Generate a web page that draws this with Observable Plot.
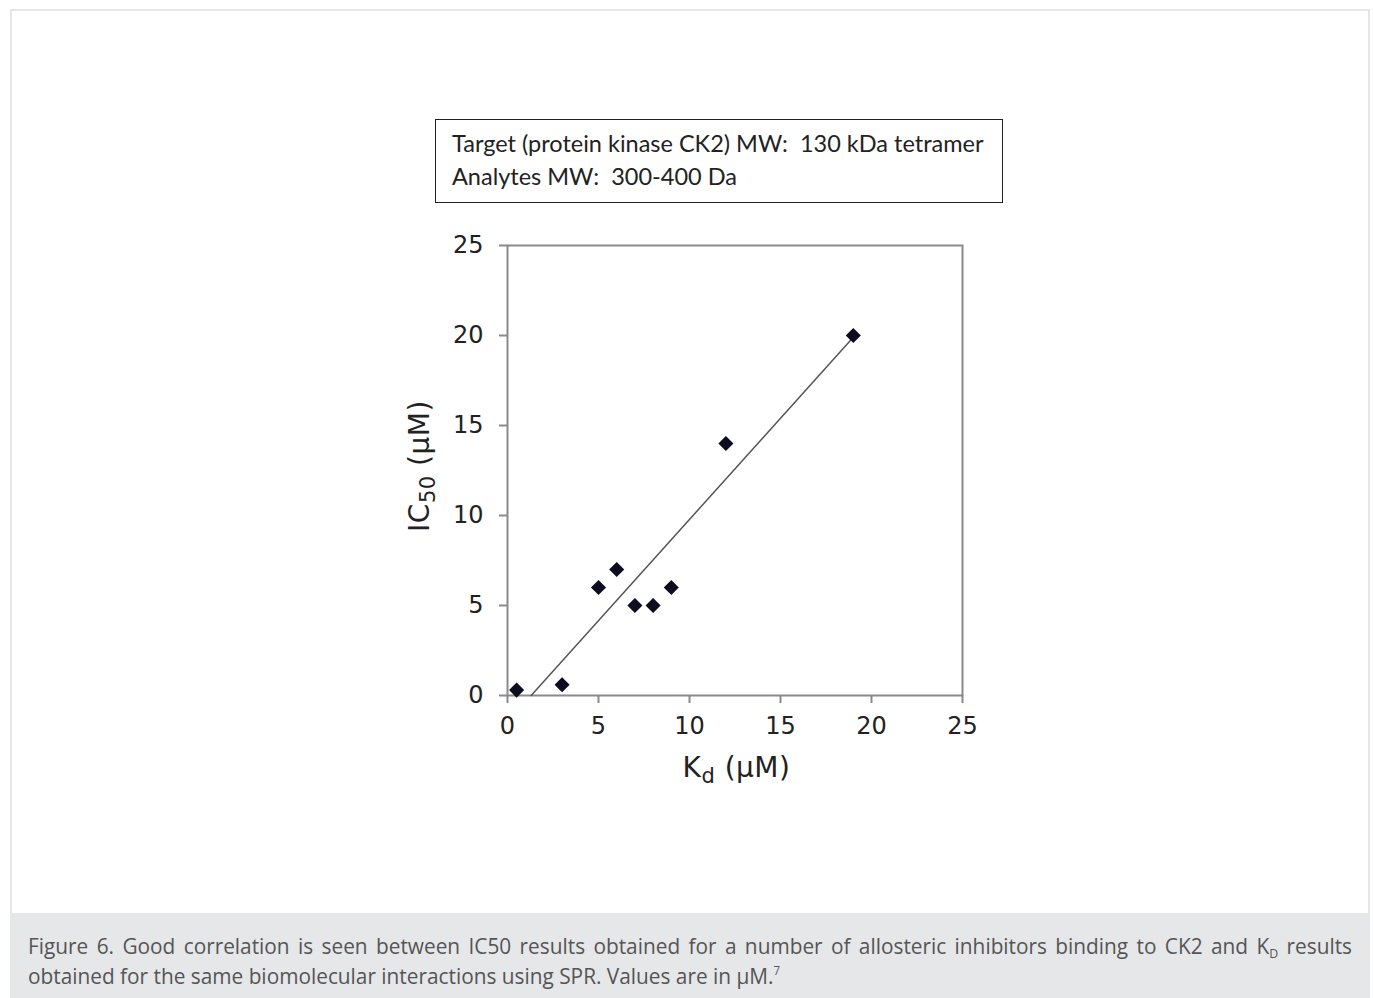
<!DOCTYPE html>
<html>
<head>
<meta charset="utf-8">
<script src="https://cdn.jsdelivr.net/npm/d3@7"></script>
<script src="https://cdn.jsdelivr.net/npm/@observablehq/plot@0.6"></script>
<style>
  html, body { margin: 0; padding: 0; background: #ffffff; }
  body { width: 1373px; height: 998px; position: relative; overflow: hidden; }
  #panel { position: absolute; left: 10px; top: 9px; width: 1356px; height: 902px; border: 2px solid #e6e6e6; border-bottom: none; background: #fff; }
  #box { position: absolute; left: 435px; top: 119px; width: 568px; height: 84px; border: 1.5px solid #222;
         font-family: Lato, "Open Sans", sans-serif; font-size: 23.5px; color: #222; box-sizing: border-box; }
  #box div { position: absolute; left: 16px; white-space: pre; }
  #chart { position: absolute; left: 380px; top: 220px; }
  #caption { position: absolute; left: 10px; top: 913px; width: 1360px; height: 85px; background: #e6e7e9;
             font-family: "Open Sans", sans-serif; font-size: 22px; color: #555; }
  #caption .line { position: absolute; left: 18px; white-space: nowrap; transform-origin: 0 0; }
  #caption .l1 { top: 17px; text-align: justify; text-align-last: justify; }
  #caption .l2 { top: 47px; }
  sub.small { font-size: 13px; vertical-align: -4px; }
  sup.small { font-size: 12px; vertical-align: 9px; }
</style>
</head>
<body>
<div id="panel"></div>
<div id="box">
  <div style="top:9px">Target (protein kinase CK2) MW:  130 kDa tetramer</div>
  <div style="top:42px">Analytes MW:  300-400 Da</div>
</div>
<div id="chart"></div>
<div id="caption">
  <div class="line l1">Figure 6. Good correlation is seen between IC50 results obtained for a number of allosteric inhibitors binding to CK2 and K<sub class="small">D</sub> results</div>
  <div class="line l2">obtained for the same biomolecular interactions using SPR. Values are in μM.<sup class="small">7</sup></div>
</div>
<script>
// Data
const kd    = [0.5, 3, 5, 6, 7, 8, 9, 12, 19];
const ic50  = [0.3, 0.6, 6, 7, 5, 5, 6, 14, 20];
// Trendline endpoints as drawn in the reference
const trendKd   = [1.3, 19];
const trendIc50 = [0, 19.9];
const xTicks = [0, 5, 10, 15, 20, 25];
const yTicks = [0, 5, 10, 15, 20, 25];

const points = kd.map((k, i) => ({kd: k, ic50: ic50[i]}));
const trend = trendKd.map((k, i) => ({kd: k, ic50: trendIc50[i]}));

const axisGray = "#8a8a8a";
const font = "'DejaVu Sans', sans-serif";
const plot = Plot.plot({
  width: 620,
  height: 590,
  marginLeft: 127,
  marginRight: 38,
  marginTop: 25,
  marginBottom: 115,
  style: {fontFamily: font, fontSize: "24px", color: "#222", background: "transparent", overflow: "visible"},
  x: {domain: [0, 25], label: null},
  y: {domain: [0, 25], label: null},
  marks: [
    Plot.frame({stroke: axisGray, strokeWidth: 2}),
    Plot.axisX({ticks: xTicks, tickSize: 8, tickPadding: 13, stroke: axisGray, strokeWidth: 2, fill: "#222", fontSize: 24, label: null}),
    Plot.axisY({ticks: yTicks, tickSize: 8, tickPadding: 16, stroke: axisGray, strokeWidth: 2, fill: "#222", fontSize: 24, label: null}),
    Plot.line(trend, {x: "kd", y: "ic50", stroke: "#555", strokeWidth: 1.5}),
    Plot.dot(points, {x: "kd", y: "ic50", symbol: "diamond2", r: 6.8, fill: "#0d0d1f", stroke: "none"})
  ]
});
document.getElementById("chart").appendChild(plot);

// Axis titles with subscripts
const sx = plot.scale("x"), sy = plot.scale("y");
const svg = d3.select(plot);
const xMid = (sx.range[0] + sx.range[1]) / 2;
const yMid = (sy.range[0] + sy.range[1]) / 2;
const xl = svg.append("text")
  .attr("x", xMid + 2).attr("y", sy.range[0] + 82)
  .attr("text-anchor", "middle")
  .attr("font-family", font).attr("letter-spacing", 0.5)
  .attr("font-size", 28).attr("fill", "#222");
xl.append("tspan").text("K");
xl.append("tspan").attr("font-size", 21).attr("dy", 6).text("d");
xl.append("tspan").attr("dy", -6).text(" (µM)");

const yl = svg.append("text")
  .attr("transform", `translate(${sx.range[0] - 78},${yMid - 4}) rotate(-90)`)
  .attr("text-anchor", "middle")
  .attr("font-family", font).attr("letter-spacing", 0.5)
  .attr("font-size", 28).attr("fill", "#222");
yl.append("tspan").text("IC");
yl.append("tspan").attr("font-size", 21).attr("dy", 6).text("50");
yl.append("tspan").attr("dy", -6).text(" (µM)");

// Condense the caption to match the reference's narrow face
const l1 = document.querySelector("#caption .l1");
const l2 = document.querySelector("#caption .l2");
const targetLine2 = 752;
const k = targetLine2 / l2.getBoundingClientRect().width;
l2.style.transform = `scaleX(${k})`;
l1.style.width = (1324 / k) + "px";
l1.style.transform = `scaleX(${k})`;
</script>
</body>
</html>
